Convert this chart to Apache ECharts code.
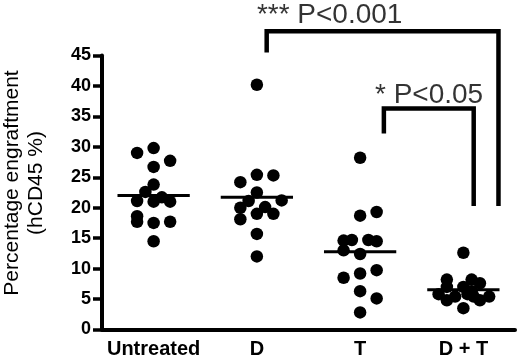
<!DOCTYPE html>
<html><head><meta charset="utf-8">
<script src="https://cdn.jsdelivr.net/npm/echarts@6/dist/echarts.min.js"></script>
<style>html,body{margin:0;padding:0;background:#fff}#c{width:520px;height:364px}</style>
</head><body><div id="c"></div>
<script>
// ---- data ----
const categories = ['Untreated', 'D', 'T', 'D + T'];
const untreatedValues = [29.0, 29.8, 27.7, 26.7, 23.8, 22.6, 21.1, 21.0, 21.7, 21.0, 18.6, 17.7, 17.5, 17.7, 14.5];
const untreatedJitter = [-0.16, 0, 0.16, 0, 0, -0.08, -0.16, 0, 0.08, 0.16, -0.16, -0.16, 0, 0.16, 0];
const dValues = [40.2, 25.4, 25.3, 24.2, 22.5, 21.1, 21.2, 20.0, 20.1, 19.0, 19.0, 18.1, 15.7, 12.0];
const dJitter = [0, 0, 0.16, -0.16, 0, -0.08, 0.24, -0.16, 0.08, 0, 0.16, -0.16, 0, 0];
const tValues = [28.2, 18.7, 19.3, 14.6, 14.7, 14.7, 14.5, 13.0, 12.4, 8.5, 9.2, 9.75, 6.3, 5.1, 2.8];
const tJitter = [0, 0, 0.16, -0.16, -0.08, 0.08, 0.16, -0.16, 0, -0.16, 0, 0.16, 0, 0.16, 0];
const dtValues = [12.6, 8.2, 8.2, 7.6, 7.0, 7.0, 5.8, 5.4, 4.8, 5.8, 5.4, 4.8, 5.4, 3.5, 6.3];
const dtJitter = [0, -0.16, 0.08, 0.16, -0.16, 0, -0.24, -0.08, -0.16, 0.04, 0.1, 0.16, 0.25, 0, 0.08];
const yTicks = [0, 5, 10, 15, 20, 25, 30, 35, 40, 45];
const yTitle = 'Percentage engraftment\n(hCD45 %)';

// significance brackets (in axis coordinates) and their labels
const bracketOuter = [[1.095, 45.5], [1.095, 49.0], [3.34, 49.0], [3.34, 20.3]];
const bracketInner = [[2.23, 32.2], [2.23, 36.3], [3.10, 36.3], [3.10, 20.3]];
const annotations = [[1.0, 51.6, '*** P<0.001'], [2.144, 38.5, '* P<0.05']];

// ---- build ----
const groups = [
  [untreatedValues, untreatedJitter],
  [dValues, dJitter],
  [tValues, tJitter],
  [dtValues, dtJitter]
];
const FONT = '"Liberation Sans", Arial, sans-serif';
const series = [];
groups.forEach(([vals, jit], i) => {
  series.push({
    type: 'scatter', xAxisIndex: 1, symbol: 'circle', symbolSize: 12.5,
    itemStyle: { color: '#000', opacity: 1 },
    data: vals.map((v, k) => [i + jit[k], v])
  });
});
groups.forEach(([vals], i) => {
  const mean = vals.reduce((a, b) => a + b, 0) / vals.length;
  series.push({
    type: 'line', xAxisIndex: 1, symbol: 'none', z: 5,
    lineStyle: { color: '#000', width: 3 },
    data: [[i - 0.35, mean], [i + 0.35, mean]]
  });
});
[bracketOuter, bracketInner].forEach(b => {
  series.push({
    type: 'line', xAxisIndex: 1, symbol: 'none', clip: false,
    lineStyle: { color: '#000', width: 4.5, join: 'miter', cap: 'butt' },
    data: b
  });
});
series.push({
  type: 'scatter', xAxisIndex: 1, symbolSize: 0, clip: false,
  data: annotations,
  label: {
    show: true, position: 'right', distance: 0,
    formatter: p => p.data[2],
    fontSize: 28, color: '#000', fontFamily: FONT
  }
});

const chart = echarts.init(document.getElementById('c'), null, { renderer: 'canvas' });
chart.setOption({
  animation: false,
  backgroundColor: '#fff',
  grid: { left: 102, right: 5, top: 55.5, bottom: 34.5, containLabel: false },
  xAxis: [{
    type: 'category', data: categories, boundaryGap: true,
    axisLine: { lineStyle: { color: '#000', width: 4 } },
    axisTick: { alignWithLabel: true, length: 9, lineStyle: { color: '#000', width: 3.5 } },
    axisLabel: { interval: 0, color: '#000', fontWeight: 'bold', fontSize: 20, fontFamily: FONT, margin: 10 },
    splitLine: { show: false }
  }, {
    type: 'value', min: -0.5, max: 3.5, show: false
  }],
  yAxis: {
    type: 'value', min: yTicks[0], max: yTicks[yTicks.length - 1], interval: 5,
    axisLine: { show: true, onZero: false, lineStyle: { color: '#000', width: 4 } },
    axisTick: { show: true, length: 9, lineStyle: { color: '#000', width: 3.5 } },
    axisLabel: { color: '#000', fontWeight: 'bold', fontSize: 18, fontFamily: FONT, margin: 11 },
    splitLine: { show: false }
  },
  graphic: [{
    type: 'text', x: 24, y: 183, rotation: Math.PI / 2,
    style: {
      text: yTitle, fill: '#000', fontSize: 21, lineHeight: 24,
      fontFamily: FONT, align: 'center', verticalAlign: 'middle'
    }
  }],
  series: series
});
</script></body></html>
